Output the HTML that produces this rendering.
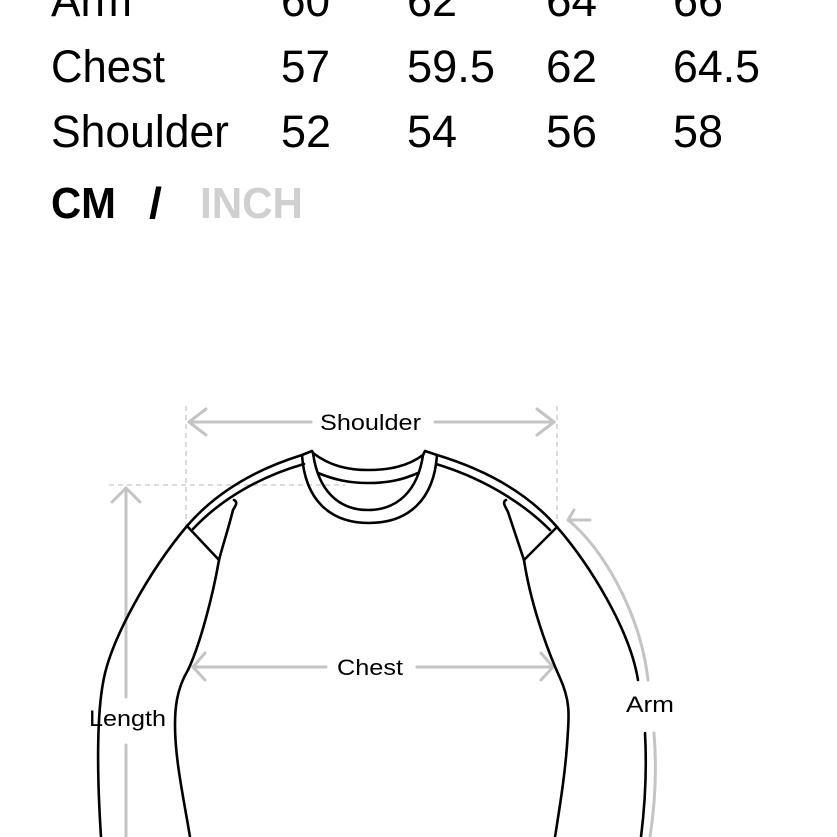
<!DOCTYPE html>
<html><head><meta charset="utf-8"><style>
html,body{margin:0;padding:0;background:#fff;width:837px;height:837px;overflow:hidden}
svg{display:block}
text{font-family:"Liberation Sans",Arial,sans-serif}
</style></head><body>
<svg width="837" height="837" viewBox="0 0 837 837" xmlns="http://www.w3.org/2000/svg">
<g font-size="45" fill="#000">
<text x="51" y="16" textLength="81" lengthAdjust="spacingAndGlyphs">Arm</text>
<text x="281" y="16" textLength="49" lengthAdjust="spacingAndGlyphs">60</text>
<text x="407" y="16" textLength="50" lengthAdjust="spacingAndGlyphs">62</text>
<text x="546" y="16" textLength="51" lengthAdjust="spacingAndGlyphs">64</text>
<text x="673" y="16" textLength="50" lengthAdjust="spacingAndGlyphs">66</text>
<text x="51" y="82" textLength="114" lengthAdjust="spacingAndGlyphs">Chest</text>
<text x="281" y="82" textLength="49" lengthAdjust="spacingAndGlyphs">57</text>
<text x="407" y="82" textLength="88" lengthAdjust="spacingAndGlyphs">59.5</text>
<text x="546" y="82" textLength="51" lengthAdjust="spacingAndGlyphs">62</text>
<text x="673" y="82" textLength="87" lengthAdjust="spacingAndGlyphs">64.5</text>
<text x="51" y="147" textLength="178" lengthAdjust="spacingAndGlyphs">Shoulder</text>
<text x="281" y="147" textLength="50" lengthAdjust="spacingAndGlyphs">52</text>
<text x="407" y="147" textLength="50" lengthAdjust="spacingAndGlyphs">54</text>
<text x="546" y="147" textLength="51" lengthAdjust="spacingAndGlyphs">56</text>
<text x="673" y="147" textLength="50" lengthAdjust="spacingAndGlyphs">58</text>
</g>
<g font-size="44" font-weight="bold">
<text x="51" y="218" textLength="65" lengthAdjust="spacingAndGlyphs">CM</text>
<text x="149" y="218" textLength="13" lengthAdjust="spacingAndGlyphs">/</text>
<text x="200" y="218" textLength="103" lengthAdjust="spacingAndGlyphs" fill="#d0d0d0">INCH</text>
</g>

<g stroke="#c8c8c8" stroke-width="1.3" stroke-dasharray="5,4" fill="none">
<line x1="186" y1="406" x2="186" y2="526"/>
<line x1="557" y1="406" x2="557" y2="520"/>
<line x1="109" y1="485" x2="345" y2="485"/>
</g>
<g stroke="#c4c4c4" stroke-width="3" fill="none" stroke-linecap="round" stroke-linejoin="round">
<line x1="189" y1="422" x2="311" y2="422"/><line x1="435" y1="422" x2="554" y2="422"/>
<polyline points="206,409 189,422 206,435"/><polyline points="537,409 554,422 537,435"/>
<line x1="193" y1="667" x2="326" y2="667"/><line x1="417" y1="667" x2="553" y2="667"/>
<polyline points="205,653 193,667 205,680"/><polyline points="541,653 553,667 541,680"/>
<line x1="126" y1="488" x2="126" y2="697"/><line x1="126" y1="745" x2="126" y2="837"/>
<polyline points="112,502 126,488 140,502"/>
<path d="M568,520 C600,545 640,610 648,680"/>
<path d="M654,733 C657,770 655,805 650,837"/>
<polyline points="590,520 568,520 574,510"/>
</g>
<g font-size="22" fill="#000">
<text x="320" y="430" textLength="101" lengthAdjust="spacingAndGlyphs">Shoulder</text>
<text x="337" y="675" textLength="66" lengthAdjust="spacingAndGlyphs">Chest</text>
<text x="89" y="726" textLength="77" lengthAdjust="spacingAndGlyphs">Length</text>
<text x="626" y="712" textLength="48" lengthAdjust="spacingAndGlyphs">Arm</text>
</g>
<g stroke="#000" stroke-width="2.6" fill="none" stroke-linecap="round" stroke-linejoin="round">
<!-- collar -->
<path d="M302,455 C305,500 330,523 369,523 C408,523 434,500 437,455"/>
<path d="M313,453 C318,490 338,510 368,510 C398,510 418,490 423,455"/>
<path d="M313,453 C330,466 348,470 368,470 C390,470 408,466 423,455"/>
<path d="M318,473 C335,480 350,483 368,483 C388,483 402,480 418,473"/>
<path d="M302,455 L312,451 L313,453"/><path d="M437,455 L425,451 L423,455"/>
<!-- shoulders -->
<path d="M302,455 C260,468 218,490 187,526"/>
<path d="M304,464 C262,476 222,498 193,529"/>
<path d="M437,455 C480,468 525,490 557,527"/>
<path d="M436,464 C476,476 518,498 550,530"/>
<line x1="187" y1="526" x2="219" y2="560"/>
<line x1="557" y1="527" x2="524" y2="560"/>
<path d="M234,500 C238,502 236,505 233,510 C228,530 222,548 219,560"/>
<path d="M506,500 C502,502 505,506 508,512 C514,530 520,548 524,560"/>
<!-- left sleeve -->
<path d="M187,526 C150,570 110,640 103,683 C98,710 96,760 101,837"/>
<path d="M219,560 C213,595 200,645 188,670 C176,690 175,710 175,725 C175,760 184,800 190,837"/>
<!-- right sleeve -->
<path d="M557,527 C590,565 630,630 638,680"/>
<path d="M645,733 C647,770 645,805 641,837"/>
<path d="M524,560 C530,600 545,645 560,678 C570,700 569,715 568,730 C566,770 560,805 555,837"/>
</g>
</svg>
</body></html>
